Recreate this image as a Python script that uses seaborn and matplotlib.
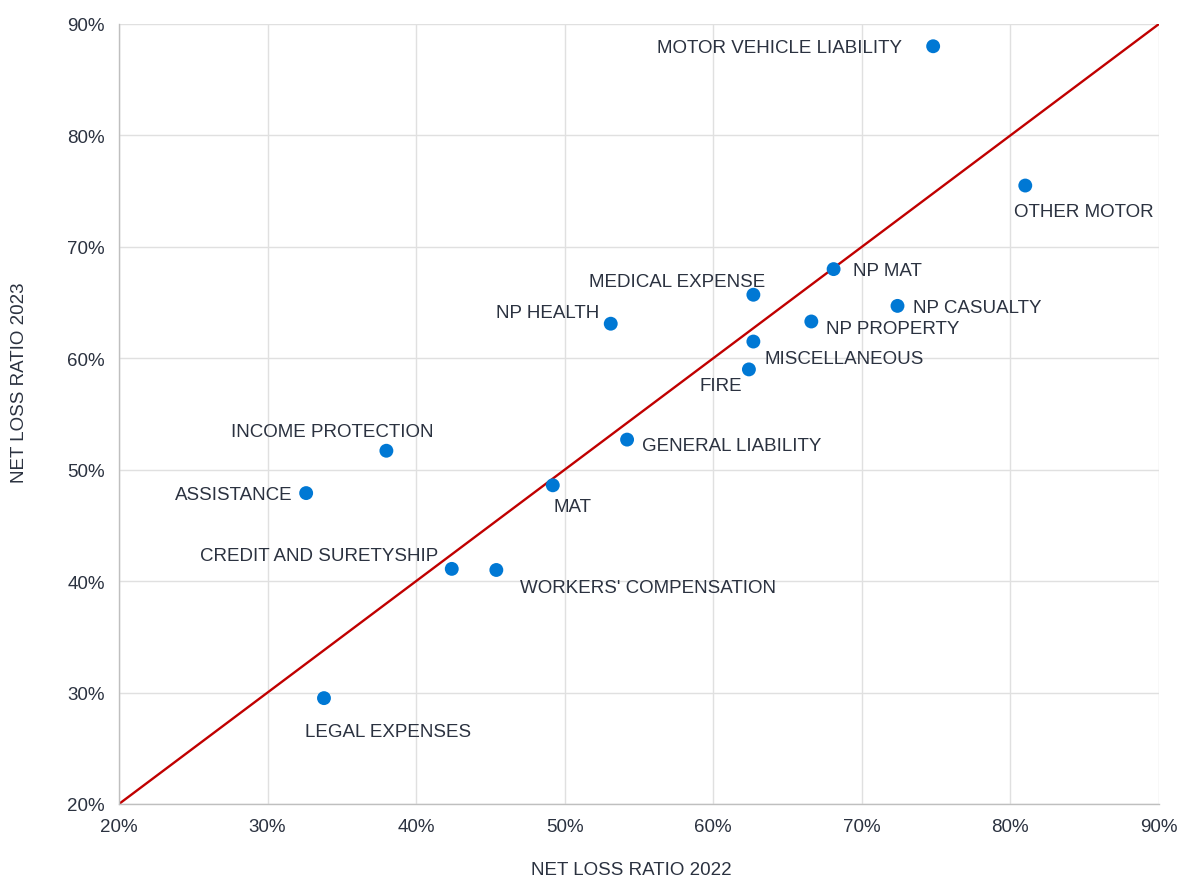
import pandas as pd
import matplotlib.pyplot as plt
import matplotlib.ticker as mtick
import seaborn as sns

# Net loss ratios by line of business (%)
lines = ['MOTOR VEHICLE LIABILITY', 'OTHER MOTOR', 'NP MAT', 'MEDICAL EXPENSE', 'NP CASUALTY',
         'NP HEALTH', 'NP PROPERTY', 'MISCELLANEOUS', 'FIRE', 'GENERAL LIABILITY',
         'INCOME PROTECTION', 'ASSISTANCE', 'MAT', 'CREDIT AND SURETYSHIP',
         "WORKERS' COMPENSATION", 'LEGAL EXPENSES']
ratio_2022 = [74.8, 81.0, 68.1, 62.7, 72.4, 53.1, 66.6, 62.7, 62.4, 54.2,
              38.0, 32.6, 49.2, 42.4, 45.4, 33.8]
ratio_2023 = [88.0, 75.5, 68.0, 65.7, 64.7, 63.1, 63.3, 61.5, 59.0, 52.7,
              51.7, 47.9, 48.6, 41.1, 41.0, 29.5]

# label placement (pixel offset, alignment)
label_pos = {
    'MOTOR VEHICLE LIABILITY': (-31, 0, 'right'),
    'OTHER MOTOR': (-11, -24, 'left'),
    'NP MAT': (19, 0, 'left'),
    'MEDICAL EXPENSE': (12, 15, 'right'),
    'NP CASUALTY': (16, 0, 'left'),
    'NP HEALTH': (-11, 13, 'right'),
    'NP PROPERTY': (15, -6, 'left'),
    'MISCELLANEOUS': (11, -15, 'left'),
    'FIRE': (-7, -15, 'right'),
    'GENERAL LIABILITY': (15, -4, 'left'),
    'INCOME PROTECTION': (-54, 21, 'center'),
    'ASSISTANCE': (-14, 0, 'right'),
    'MAT': (1, -20, 'left'),
    'CREDIT AND SURETYSHIP': (-14, 15, 'right'),
    "WORKERS' COMPENSATION": (24, -16, 'left'),
    'LEGAL EXPENSES': (-19, -32, 'left'),
}

df = pd.DataFrame({'line': lines, 'y2022': ratio_2022, 'y2023': ratio_2023})

sns.set_style('white')
plt.rcParams['font.family'] = ['Liberation Sans', 'DejaVu Sans']
text_color = '#2b3240'
fs = 13.5

fig = plt.figure(figsize=(11.8, 8.79), dpi=100)
ax = fig.add_axes([0.1008, 0.0842, 0.8814, 0.8874])

ax.axline((20, 20), slope=1, color='#c00000', lw=1.7, zorder=2)
sns.scatterplot(data=df, x='y2022', y='y2023', color='#0078d4', s=100,
                edgecolor='none', ax=ax, zorder=3)

for _, r in df.iterrows():
    dx, dy, ha = label_pos[r['line']]
    ax.annotate(r['line'], (r['y2022'], r['y2023']), xytext=(dx, dy - 1.5),
                textcoords='offset pixels', ha=ha, va='center',
                fontsize=fs, color=text_color)

ax.set_xlim(20, 90)
ax.set_ylim(20, 90)
ax.set_xticks(range(20, 91, 10))
ax.set_yticks(range(20, 91, 10))
ax.xaxis.set_major_formatter(mtick.PercentFormatter(decimals=0))
ax.yaxis.set_major_formatter(mtick.PercentFormatter(decimals=0))
ax.grid(True, color='#e0e0e0', lw=1)
ax.set_axisbelow(True)
for s in ['top', 'right']:
    ax.spines[s].set_visible(False)
for s in ['left', 'bottom']:
    ax.spines[s].set_color('#bfbfbf')
    ax.spines[s].set_linewidth(1)
ax.tick_params(length=0, labelsize=fs, labelcolor=text_color, pad=10)
ax.set_xlabel('NET LOSS RATIO 2022', fontsize=fs, color=text_color)
ax.set_ylabel('NET LOSS RATIO 2023', fontsize=fs, color=text_color)
ax.xaxis.set_label_coords(0.493, -0.073)
ax.yaxis.set_label_coords(-0.087, 0.541)

plt.savefig('out.png', dpi=100)
